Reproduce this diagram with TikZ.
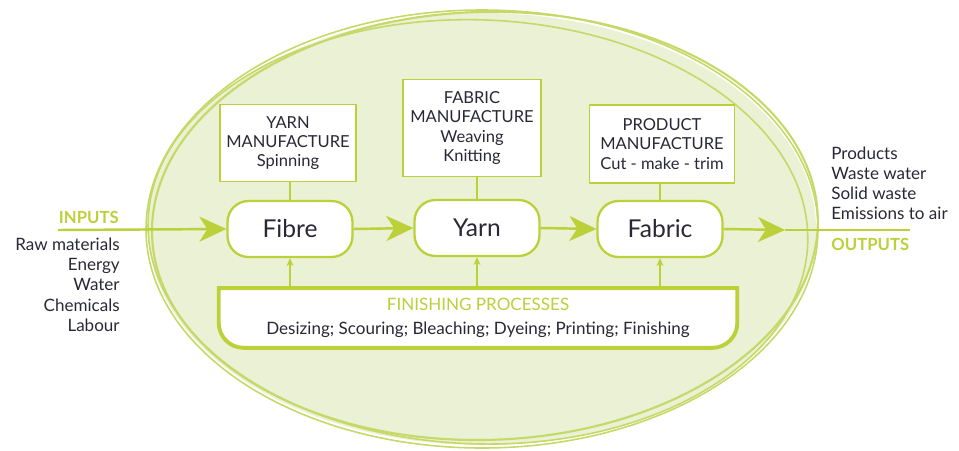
\documentclass[tikz,border=0pt]{standalone}
\usepackage{fontspec}
\setmainfont{Lato}
\setsansfont{Lato}
\usetikzlibrary{arrows.meta}
\definecolor{leaf}{RGB}{188,208,58}
\definecolor{leafpale}{RGB}{234,241,212}
\definecolor{leafrim}{RGB}{198,216,104}
\definecolor{ink}{RGB}{40,40,55}

\begin{document}
\begin{tikzpicture}[x = 0.02cm, y = -0.02cm, font=\sffamily, text = ink]
	\tikzstyle{stageStyle} = [draw = leaf, line width = 1.3pt, fill = white, rounded corners = 0.42cm, minimum width = 2.5cm, minimum height = 1.12cm, font = \fontsize{14}{16}\selectfont]
	\tikzstyle{taskStyle} = [draw = leaf, line width = 0.8pt, fill = white, align = center, inner sep = 2pt, font = \fontsize{9.4}{11}\selectfont]
	\tikzstyle{listStyle} = [inner sep = 0pt, font = \fontsize{9.7}{11.4}\selectfont]
	\tikzstyle{headStyle} = [inner sep = 0pt, text = leaf, font = \fontsize{9.5}{11.4}\selectfont\bfseries]
	\tikzstyle{flowStyle} = [draw = leaf, line width = 1.4pt, -{Stealth[length = 0.54cm, width = 0.5cm, inset = 0.16cm]}]
	\tikzstyle{feedStyle} = [draw = leaf, line width = 0.6pt, -{Stealth[length = 0.16cm, width = 0.14cm]}]
	\tikzstyle{rimStyle} = [draw = leafrim, line width = 0.9pt]
	\useasboundingbox (0,0) rectangle (959,450);
	% hand drawn oval
	\fill[leafpale] (482,229) ellipse [x radius = 334, y radius = 216];
	\draw[rimStyle] (482,229) ellipse [x radius = 336, y radius = 219];
	\draw[rimStyle, rotate around = {-2:(482,229)}] (478,232) ellipse [x radius = 330, y radius = 212];
	\draw[rimStyle, line width = 1.2pt, rotate around = {1.5:(482,229)}] (485,226) ellipse [x radius = 333, y radius = 214];
	% main chain
	\node[stageStyle] (fibre) at (290,229) {Fibre};
	\node[stageStyle] (yarn) at (477,228) {Yarn};
	\node[stageStyle] (fabric) at (660,229) {Fabric};
	% manufacture boxes
	\node[taskStyle, minimum width = 2.72cm, minimum height = 1.54cm] (yarnjob) at (288,143) {YARN\\MANUFACTURE\\Spinning};
	\node[taskStyle, minimum width = 2.76cm, minimum height = 1.94cm] (fabricjob) at (472,128) {FABRIC\\MANUFACTURE\\Weaving\\Knitting};
	\node[taskStyle, minimum width = 2.9cm, minimum height = 1.56cm] (productjob) at (662,144) {PRODUCT\\MANUFACTURE\\Cut - make - trim};
	\draw[draw = leaf, line width = 0.8pt] (fibre.north) -- (fibre.north |- yarnjob.south);
	\draw[draw = leaf, line width = 0.8pt] (yarn.north) -- (yarn.north |- fabricjob.south);
	\draw[draw = leaf, line width = 0.8pt] (fabric.north) -- (fabric.north |- productjob.south);
	% finishing
	\node[minimum width = 10.36cm, minimum height = 1.18cm, inner sep = 0pt] (finish) at (478,318) {};
	\draw[draw = leaf, fill = white, line width = 2.2pt] (finish.north west) -- (finish.north east) [rounded corners = 0.5cm] -- (finish.south east) -- (finish.south west) [sharp corners] -- cycle;
	\node[align = center, inner sep = 0pt] (finishtext) at (finish) {{\color{leaf}\fontsize{9.7}{12}\selectfont FINISHING PROCESSES}\\[2pt]{\fontsize{9.7}{12}\selectfont Desizing; Scouring; Bleaching; Dyeing; Printing; Finishing}};
	\draw[feedStyle] (finish.north -| fibre) -- (fibre.south);
	\draw[feedStyle] (finish.north -| yarn) -- (yarn.south);
	\draw[feedStyle] (finish.north -| fabric) -- (fabric.south);
	% flows
	\coordinate (inStart) at (58,230);
	\coordinate (outMid) at (785,230);
	\coordinate (outEnd) at (910,230);
	\draw[flowStyle] (inStart) -- (fibre.west);
	\draw[flowStyle] (fibre.east) -- (yarn.west);
	\draw[flowStyle] (yarn.east) -- (fabric.west);
	\draw[flowStyle] (fabric.east) -- (outMid);
	\draw[draw = leaf, line width = 1.4pt] (outMid) -- (outEnd);
	% inputs and outputs
	\node[headStyle, anchor = east] (inhead) at (119,217) {INPUTS};
	\node[listStyle, anchor = north east, align = right] (inlist) at (120,238) {Raw materials\\Energy\\Water\\Chemicals\\Labour};
	\node[listStyle, anchor = north west, align = left] (outlist) at (831,147) {Products\\Waste water\\Solid waste\\Emissions to air};
	\node[headStyle, anchor = west] (outhead) at (831,244) {OUTPUTS};
\end{tikzpicture}
\end{document}
